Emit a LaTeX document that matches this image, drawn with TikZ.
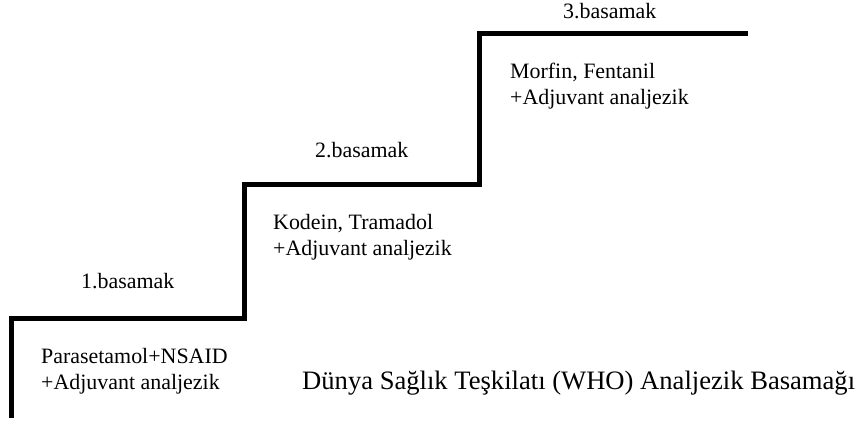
\documentclass[tikz,border=0pt]{standalone}
\usepackage{fontspec}
\setmainfont{Liberation Serif}
\begin{document}
\begin{tikzpicture}[x=1bp,y=-1bp,
  stair/.style={line width=5bp, line join=miter, black},
  lbl/.style={anchor=base west, inner sep=0pt, font=\fontsize{22}{26}\selectfont},
  body/.style={anchor=base west, inner sep=0pt, align=left, font=\fontsize{22}{26}\selectfont},
  ttl/.style={anchor=base west, inner sep=0pt, font=\fontsize{26.7}{30}\selectfont}]
\useasboundingbox (0,0) rectangle (864,424);
\coordinate (s0) at (11,418);
\coordinate (s1) at (11,318);
\coordinate (s2) at (244,318);
\coordinate (s3) at (244,184);
\coordinate (s4) at (479,184);
\coordinate (s5) at (479,33);
\coordinate (s6) at (748,33);
\draw[stair] (s0) -- (s1) -- (s2) -- (s3) -- (s4) -- (s5) -- (s6);
\node[lbl] (b1) at (81,288) {1.basamak};
\node[lbl] (b2) at (315,157) {2.basamak};
\node[lbl] (b3) at (563,18) {3.basamak};
\node[body] (t1) at (41,389) {Parasetamol+NSAID\\+Adjuvant analjezik};
\node[body] (t2) at (273,255) {Kodein, Tramadol\\+Adjuvant analjezik};
\node[body] (t3) at (510,104) {Morfin, Fentanil\\+Adjuvant analjezik};
\node[ttl] (title) at (302,389) {Dünya Sağlık Teşkilatı (WHO) Analjezik Basamağı};
\end{tikzpicture}
\end{document}
